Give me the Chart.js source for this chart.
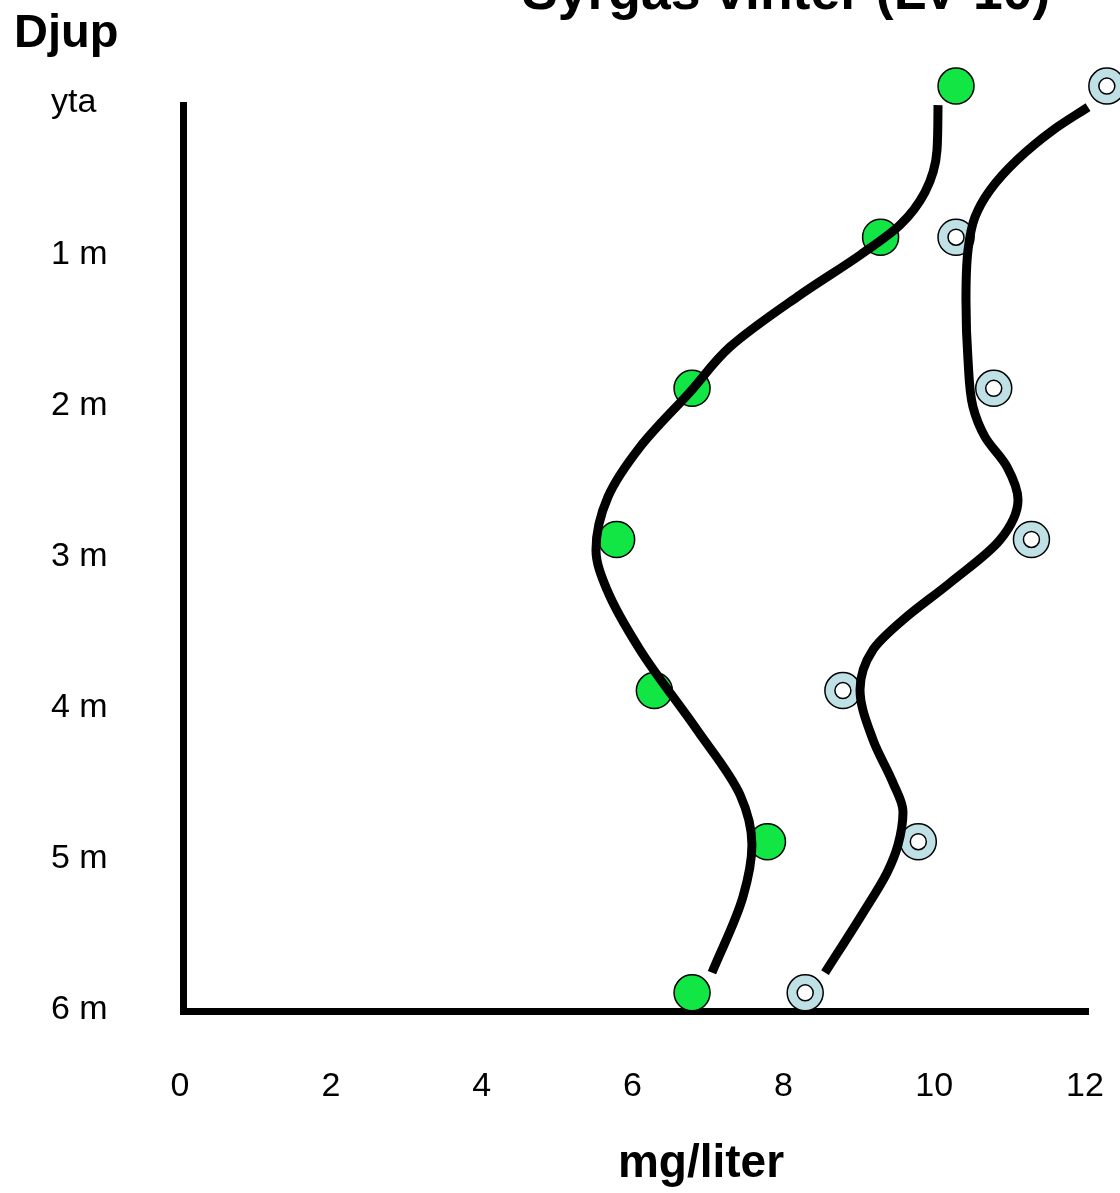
<!DOCTYPE html>
<html lang="sv">
<head>
<meta charset="utf-8">
<title>Syrgas vinter (LV 10)</title>
<script src="https://cdn.jsdelivr.net/npm/chart.js@4"></script>
<style>
    html, body { margin: 0; padding: 0; background: #fff; }
    #wrap { position: relative; width: 1120px; height: 1193px; overflow: hidden; }
    #wrap canvas { position: absolute; left: 0; top: 0; }
    .txt { position: absolute; font-family: "Liberation Sans", Arial, sans-serif; font-weight: bold; color: #000; white-space: nowrap; }
    #title { left: 522px; top: -36px; font-size: 53.5px; line-height: 53.5px; }
    #djup { left: 14px; top: 7px; font-size: 47px; line-height: 47px; }
    #unit { left: 501px; width: 400px; text-align: center; top: 1138px; font-size: 46px; line-height: 46px; }
</style>
</head>
<body>
<div id="wrap">
    <canvas id="syrgasChart" width="1120" height="1193"></canvas>
    <div class="txt" id="title">Syrgas vinter (LV 10)</div>
    <div class="txt" id="djup">Djup</div>
    <div class="txt" id="unit">mg/liter</div>
</div>
<script>
// ===== Axis data =====
const depthLabels = ['yta', '1 m', '2 m', '3 m', '4 m', '5 m', '6 m'];
const depths = [0, 1, 2, 3, 4, 5, 6];
const xTicks = [0, 2, 4, 6, 8, 10, 12];

// ===== Measured values (mg/liter) per depth =====
const greenValues = [10.25, 9.25, 6.75, 5.75, 6.25, 7.75, 6.75];
const blueValues = [12.25, 10.25, 10.75, 11.25, 8.75, 9.75, 8.25];

// ===== Hand drawn trend curves (key points) =====
const greenCurveX = [10.011, 9.998, 9.839, 9.507, 8.977, 8.181, 7.253, 6.723, 6.06, 5.635, 5.476, 5.622, 6.06, 6.815, 7.386, 7.544, 7.425, 7.014];
const greenCurveDepth = [0.126, 0.423, 0.701, 0.919, 1.118, 1.382, 1.726, 2.024, 2.388, 2.718, 3.069, 3.333, 3.73, 4.259, 4.689, 5.02, 5.364, 5.866];
const blueCurveX = [12.0, 11.536, 11.059, 10.701, 10.502, 10.409, 10.382, 10.409, 10.475, 10.634, 10.926, 11.072, 10.833, 10.17, 9.547, 9.149, 8.977, 9.149, 9.414, 9.547, 9.481, 9.335, 9.017, 8.513];
const blueCurveDepth = [0.139, 0.291, 0.489, 0.688, 0.866, 1.085, 1.415, 1.812, 2.123, 2.321, 2.52, 2.738, 3.003, 3.287, 3.532, 3.73, 3.995, 4.325, 4.61, 4.802, 5.02, 5.205, 5.47, 5.866];

// ===== Helpers =====
function toPoints(xs, ys) {
    return xs.map((x, i) => ({ x: x, y: ys[i] }));
}

const tickFont = { family: 'Liberation Sans', size: 34 };

// curves run top to bottom, so interpolate along the depth axis
function curveDataset(xs, ys) {
    return {
        data: toPoints(xs, ys),
        indexAxis: 'y',
        showLine: true,
        borderColor: '#000',
        borderWidth: 9,
        borderCapStyle: 'butt',
        cubicInterpolationMode: 'monotone',
        tension: 0.4,
        capBezierPoints: false,
        pointRadius: 0,
        pointHoverRadius: 0,
        clip: false,
        order: 0
    };
}

// drop the extra padding Chart.js reserves for the outer tick labels
function noScalePadding(s) {
    s.paddingLeft = 0;
    s.paddingRight = 0;
    s.paddingTop = 0;
    s.paddingBottom = 0;
}

// ===== Build chart =====
new Chart(document.getElementById('syrgasChart'), {
    type: 'scatter',
    data: {
        datasets: [
            curveDataset(greenCurveX, greenCurveDepth),
            curveDataset(blueCurveX, blueCurveDepth),
            {
                // white hole of the blue rings
                data: toPoints(blueValues, depths),
                pointRadius: 8,
                pointHoverRadius: 30,
                pointBackgroundColor: '#fff',
                pointBorderColor: '#000',
                pointBorderWidth: 1.5,
                clip: false,
                order: 1
            },
            {
                data: toPoints(greenValues, depths),
                pointRadius: 18,
                pointHoverRadius: 30,
                pointBackgroundColor: '#12e645',
                pointBorderColor: '#000',
                pointBorderWidth: 1.5,
                clip: false,
                order: 2
            },
            {
                data: toPoints(blueValues, depths),
                pointRadius: 18,
                pointHoverRadius: 30,
                pointBackgroundColor: '#bfe1e5',
                pointBorderColor: '#000',
                pointBorderWidth: 1.5,
                clip: false,
                order: 2
            }
        ]
    },
    options: {
        responsive: false,
        animation: false,
        events: [],
        layout: { padding: { left: 51, right: 32, top: 105, bottom: 0 } },
        plugins: { legend: { display: false }, tooltip: { enabled: false } },
        scales: {
            x: {
                type: 'linear',
                min: 0,
                max: 12,
                afterBuildTicks: s => { s.ticks = xTicks.map(v => ({ value: v })); },
                afterFit: s => { s.height = 182; noScalePadding(s); },
                grid: { display: false, drawTicks: false },
                border: { display: true, color: '#000', width: 7 },
                ticks: { color: '#000', font: tickFont, padding: 55, labelOffset: -3, maxRotation: 0 }
            },
            y: {
                type: 'linear',
                reverse: true,
                min: 0.125,
                max: 6.12,
                afterBuildTicks: s => { s.ticks = depths.map(v => ({ value: v })); },
                afterFit: s => { s.width = 132; noScalePadding(s); },
                grid: { display: false, drawTicks: false },
                border: { display: true, color: '#000', width: 7 },
                ticks: {
                    color: '#000',
                    font: tickFont,
                    crossAlign: 'far',
                    labelOffset: 17,
                    padding: 0,
                    callback: (v, i) => depthLabels[i]
                }
            }
        }
    }
});
</script>
</body>
</html>
